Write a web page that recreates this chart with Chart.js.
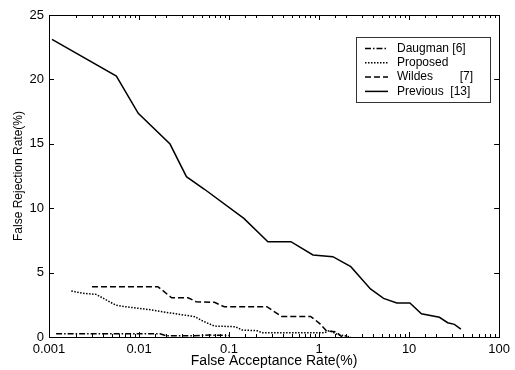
<!DOCTYPE html>
<html>
<head>
<meta charset="utf-8">
<script src="https://cdn.jsdelivr.net/npm/chart.js@4/dist/chart.umd.min.js"></script>
<style>
  body { margin: 0; background: #fff; }
  canvas { display: block; }
</style>
</head>
<body>
<canvas id="myChart" width="515" height="370"></canvas>
<script>
// series (x = FAR %, y = FRR %)
const daugmanX = [0.0012, 0.0171, 0.02, 0.04, 0.06, 0.1];
const daugmanY = [0.25, 0.25, 0.1, 0.1, 0.15, 0.12];

const proposedX = [0.00177, 0.00238, 0.00333, 0.0055, 0.0071, 0.0139, 0.0211, 0.0415, 0.0511, 0.0687, 0.118, 0.14, 0.205, 0.232, 1.15, 1.3, 1.6, 2.25];
const proposedY = [3.57, 3.39, 3.31, 2.48, 2.35, 2.1, 1.89, 1.58, 1.24, 0.85, 0.8, 0.54, 0.49, 0.33, 0.33, 0.5, 0.2, 0.0];

const wildesX = [0.003, 0.0162, 0.023, 0.035, 0.043, 0.0687, 0.0883, 0.263, 0.384, 0.805, 1.01, 1.22, 1.54, 1.8];
const wildesY = [3.91, 3.91, 3.05, 3.05, 2.74, 2.69, 2.35, 2.35, 1.6, 1.6, 1.06, 0.45, 0.41, 0.0];

const previousX = [0.00108, 0.0056, 0.0098, 0.0221, 0.0336, 0.0533, 0.146, 0.27, 0.486, 0.855, 1.42, 2.25, 3.72, 5.2, 7.3, 10.2, 13.7, 21.7, 26.8, 31.8, 37.6];
const previousY = [23.1, 20.26, 17.37, 14.98, 12.45, 11.47, 9.21, 7.4, 7.4, 6.37, 6.24, 5.46, 3.73, 3.0, 2.64, 2.64, 1.81, 1.53, 1.11, 0.98, 0.62];

const labels = ['Daugman [6]', 'Proposed', 'Wildes        [7]', 'Previous  [13]'];
const yTicks = [0, 5, 10, 15, 20, 25];

function pts(xs, ys) { return xs.map((x, i) => ({ x: x, y: ys[i] })); }

function isDecade(v) {
    let l = Math.log10(v);
    return Math.abs(l - Math.round(l)) < 1e-6;
}

// box round the plot, inward ticks on all four sides, framed legend
const frame = {
    id: 'frame',
    afterDraw(chart) {
        const c = chart.ctx, a = chart.chartArea;
        const xs = chart.scales.x, ys = chart.scales.y;
        c.save();
        c.strokeStyle = '#000';
        c.lineWidth = 1;
        c.setLineDash([]);
        c.strokeRect(Math.round(a.left) + 0.5, Math.round(a.top) + 0.5, Math.round(a.right - a.left), Math.round(a.bottom - a.top));
        c.beginPath();
        xs.ticks.forEach(t => {
            let px = Math.round(xs.getPixelForValue(t.value)) + 0.5;
            let len = isDecade(t.value) ? 5 : 3;
            c.moveTo(px, a.bottom); c.lineTo(px, a.bottom - len);
            c.moveTo(px, a.top); c.lineTo(px, a.top + len);
        });
        ys.ticks.forEach(t => {
            let py = Math.round(ys.getPixelForValue(t.value)) + 0.5;
            c.moveTo(a.left, py); c.lineTo(a.left + 5, py);
            c.moveTo(a.right, py); c.lineTo(a.right - 5, py);
        });
        c.stroke();

        // legend
        let lx = 356.5, ly = 37.5, lw = 134, lh = 65;
        c.fillStyle = '#fff';
        c.fillRect(lx, ly, lw, lh);
        c.strokeStyle = '#333';
        c.strokeRect(lx, ly, lw, lh);
        c.font = '12px "Liberation Sans", Arial, sans-serif';
        c.textBaseline = 'middle';
        chart.data.datasets.forEach((ds, i) => {
            let y = 48.5 + i * 14.3;
            c.strokeStyle = '#000';
            c.lineWidth = ds.borderWidth;
            c.setLineDash(ds.borderDash || []);
            c.beginPath();
            c.moveTo(365, y); c.lineTo(388, y);
            c.stroke();
            c.fillStyle = '#000';
            c.fillText(ds.label, 397, y);
        });
        c.restore();
    }
};

const ctx = document.getElementById('myChart').getContext('2d');
let myChart = new Chart(ctx, {
    type: 'scatter',
    data: {
        datasets: [
            { label: labels[0], data: pts(daugmanX, daugmanY), borderDash: [6, 2, 1.5, 2] },
            { label: labels[1], data: pts(proposedX, proposedY), borderDash: [1.5, 1.5] },
            { label: labels[2], data: pts(wildesX, wildesY), borderDash: [6, 3] },
            { label: labels[3], data: pts(previousX, previousY), borderDash: [] }
        ].map(d => Object.assign(d, {
            showLine: true, pointRadius: 0, borderColor: '#000', borderWidth: 1.5, tension: 0, fill: false
        }))
    },
    options: {
        responsive: false,
        animation: false,
        layout: { padding: { top: 15, right: 10, left: 0, bottom: 0 } },
        plugins: { legend: { display: false }, tooltip: { enabled: false } },
        scales: {
            x: {
                type: 'logarithmic',
                min: 0.001, max: 100,
                grid: { display: false, drawTicks: false },
                border: { display: false },
                afterFit(s) { s.height = 33; },
                ticks: {
                    autoSkip: false, maxRotation: 0, padding: 5,
                    color: '#000',
                    font: { family: '"Liberation Sans", Arial, sans-serif', size: 13 },
                    callback: v => isDecade(v) ? String(Number(v.toPrecision(3))) : ''
                },
                title: {
                    display: true, text: 'False Acceptance Rate(%)', color: '#000',
                    padding: { top: 0, bottom: 0 },
                    font: { family: '"Liberation Sans", Arial, sans-serif', size: 14 }
                }
            },
            y: {
                min: 0, max: 25,
                afterBuildTicks(s) { s.ticks = yTicks.map(v => ({ value: v })); },
                grid: { display: false, drawTicks: false },
                border: { display: false },
                afterFit(s) { s.width = 49; },
                ticks: {
                    padding: 5, color: '#000',
                    font: { family: '"Liberation Sans", Arial, sans-serif', size: 13 }
                },
                title: {
                    display: true, text: 'False Rejection Rate(%)', color: '#000',
                    padding: { top: 11, bottom: 0 },
                    font: { family: '"Liberation Sans", Arial, sans-serif', size: 12 }
                }
            }
        }
    },
    plugins: [frame]
});
</script>
</body>
</html>
